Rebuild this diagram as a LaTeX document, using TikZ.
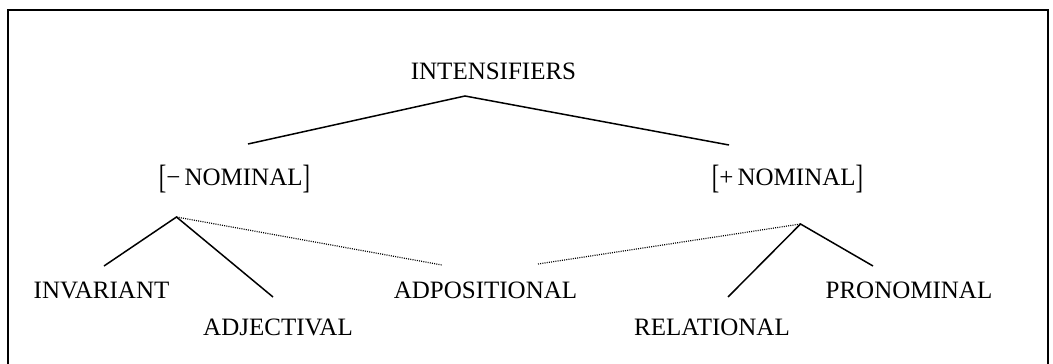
\documentclass[tikz,border=0pt]{standalone}
\usepackage{fontspec}
\setmainfont{Liberation Serif}
\newcommand{\tallbr}[1]{\raisebox{-0.15em}{\scalebox{0.9}[1.35]{#1}}}
\begin{document}
\begin{tikzpicture}[x=1pt,y=1pt,
  lbl/.style={inner sep=0pt, anchor=base, font=\fontsize{25}{30}\selectfont},
  branch/.style={line width=1.5pt},
  dotbranch/.style={line width=1.2pt, dash pattern=on 1pt off 1.2pt},
  frame/.style={line width=1.5pt}]
\useasboundingbox (0,0) rectangle (1053,-364);
\draw[frame] (8,-380) -- (8,-10) -- (1048,-10) -- (1048,-380);
% labels
\node[lbl] (int) at (493.5,-79) {INTENSIFIERS};
\node[lbl] (neg) at (234.5,-185) {\tallbr{[}−\,NOMINAL\tallbr{]}};
\node[lbl] (pos) at (787.5,-185) {\tallbr{[}+\,NOMINAL\tallbr{]}};
\node[lbl] (inv) at (101.5,-298) {INVARIANT};
\node[lbl] (adj) at (278,-335) {ADJECTIVAL};
\node[lbl] (adp) at (485.5,-298) {ADPOSITIONAL};
\node[lbl] (rel) at (712,-335) {RELATIONAL};
\node[lbl] (pro) at (909,-298) {PRONOMINAL};
% branch points
\coordinate (top) at (465,-96);
\coordinate (negT) at (248,-144);
\coordinate (posT) at (729,-145);
\coordinate (negB) at (176.5,-217);
\coordinate (posB) at (800.5,-224);
\coordinate (invT) at (104,-266);
\coordinate (adjT) at (273,-297);
\coordinate (adpL) at (442,-265);
\coordinate (adpR) at (538,-264);
\coordinate (relT) at (728,-297);
\coordinate (proT) at (873,-266);
% connectors
\draw[branch] (negT) -- (top) -- (posT);
\draw[branch] (invT) -- (negB) -- (adjT);
\draw[dotbranch] (negB) -- (adpL);
\draw[dotbranch] (adpR) -- (posB);
\draw[branch] (relT) -- (posB) -- (proT);
\end{tikzpicture}
\end{document}
